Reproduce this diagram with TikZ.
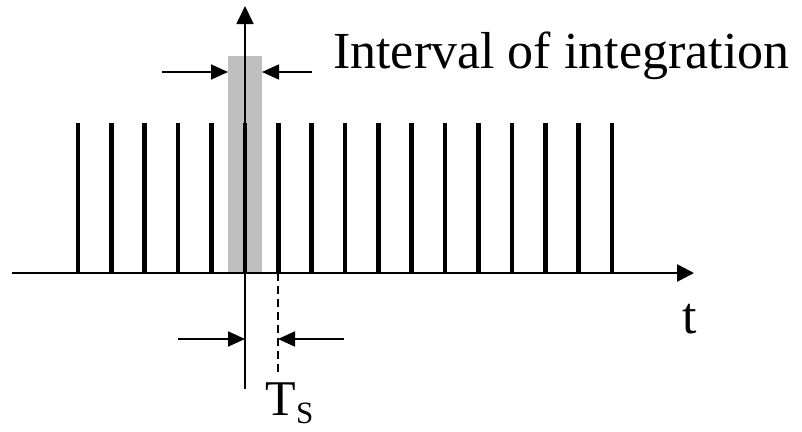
\documentclass[tikz,border=0pt]{standalone}
\usepackage{fontspec}
\setmainfont{Liberation Serif}
\usetikzlibrary{arrows.meta}
\begin{document}
\begin{tikzpicture}[x=1pt,y=-1pt,
  tip/.style={-{Triangle[length=17pt,width=15pt]}},
  thin line/.style={line width=1.8pt},
  pulse/.style={line width=4.6pt},
  lbl/.style={inner sep=0pt,font=\fontsize{52}{60}\selectfont}]
\useasboundingbox (0,0) rectangle (802,431);
% shaded integration interval
\fill[gray!50] (228,56) rectangle (262,273);
% pulses
\foreach \i in {0,...,16}{
  \draw[pulse] ({78+33.375*\i},273) -- ({78+33.375*\i},123);
}
% axes
\coordinate (xs) at (12,273);
\coordinate (xe) at (694,273);
\draw[line width=2.5pt,-{Triangle[length=17pt,width=17pt]}] (xs) -- (xe);
\coordinate (ys) at (245,389);
\coordinate (ye) at (245,6);
\draw[thin line,-{Triangle[length=18pt,width=17pt]}] (ys) -- (ye);
% dashed line at Ts
\coordinate (ds) at (278,273);
\coordinate (de) at (278,373);
\draw[thin line,dash pattern=on 8pt off 5pt] (ds) -- (de);
% interval arrows
\coordinate (a1) at (162,72); \coordinate (a2) at (228,72);
\coordinate (a3) at (312,72); \coordinate (a4) at (262,72);
\draw[thin line,tip] (a1) -- (a2);
\draw[thin line,tip] (a3) -- (a4);
% Ts arrows
\coordinate (b1) at (178,339); \coordinate (b2) at (245,339);
\coordinate (b3) at (344,339); \coordinate (b4) at (278,339);
\draw[thin line,tip] (b1) -- (b2);
\draw[thin line,tip] (b3) -- (b4);
% labels
\node[lbl,anchor=base west] (interval) at (333,68) {Interval of integration};
\node[lbl,anchor=base west] (t) at (682,333) {t};
\node[inner sep=0pt,anchor=base west,font=\fontsize{50}{60}\selectfont] (ts) at (265,415) {T};
\node[inner sep=0pt,anchor=base west,font=\fontsize{31}{36}\selectfont] (tsub) at (ts.base east) [yshift=-8pt] {S};
\end{tikzpicture}
\end{document}
